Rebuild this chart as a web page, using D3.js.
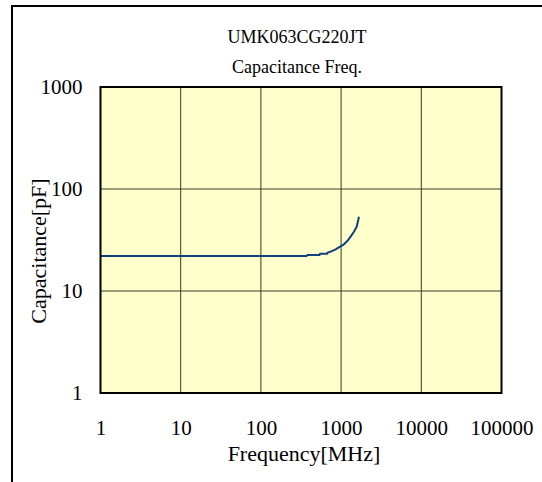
<!DOCTYPE html>
<html>
<head>
<meta charset="utf-8">
<script src="https://cdn.jsdelivr.net/npm/d3@7"></script>
<style>
  html, body { margin: 0; padding: 0; background: #fff; }
  svg { display: block; }
  text { font-family: "Liberation Serif", "Times New Roman", serif; fill: #000; }
</style>
</head>
<body>
<svg id="chart" width="542" height="482"></svg>
<script>
const titleLines = ["UMK063CG220JT", "Capacitance Freq."];
const xLabel = "Frequency[MHz]";
const yLabel = "Capacitance[pF]";
const xTicks = [1, 10, 100, 1000, 10000, 100000];
const yTicks = [1, 10, 100, 1000];
const freqMHz = [1, 10, 100, 370, 378, 540, 545, 670, 675, 740, 855, 985, 1085, 1195, 1315, 1445, 1565, 1670];
const capPF   = [22.0, 22.0, 22.0, 22.0, 22.5, 22.5, 23.2, 23.2, 23.7, 24.3, 25.6, 27.4, 28.7, 30.9, 34.1, 38.1, 42.7, 53.5];

const svg = d3.select("#chart");
const plot = { left: 100.5, right: 501.5, top: 87, bottom: 393 };

// outer frame (cut off at right and bottom)
svg.append("rect")
  .attr("x", 12).attr("y", 6).attr("width", 600).attr("height", 600)
  .attr("fill", "none").attr("stroke", "#000").attr("stroke-width", 2);

const x = d3.scaleLog().domain([1, 100000]).range([plot.left, plot.right]);
const y = d3.scaleLog().domain([1, 1000]).range([plot.bottom, plot.top]);

// plot background
svg.append("rect")
  .attr("x", plot.left).attr("y", plot.top)
  .attr("width", plot.right - plot.left).attr("height", plot.bottom - plot.top)
  .attr("fill", "#FFFFCC");

// gridlines
const grid = svg.append("g").attr("stroke", "#3a3a2a").attr("stroke-width", 1);
grid.selectAll("line.v").data(xTicks.slice(1, -1)).join("line")
  .attr("x1", d => x(d)).attr("x2", d => x(d))
  .attr("y1", plot.top).attr("y2", plot.bottom);
grid.selectAll("line.h").data(yTicks.slice(1, -1)).join("line")
  .attr("x1", plot.left).attr("x2", plot.right)
  .attr("y1", d => y(d)).attr("y2", d => y(d));

// curve
const line = d3.line().x((d, i) => x(freqMHz[i])).y((d, i) => y(capPF[i]));
svg.append("path")
  .datum(capPF)
  .attr("d", line)
  .attr("fill", "none")
  .attr("stroke", "#11407A")
  .attr("stroke-width", 2)
  .attr("stroke-linejoin", "round");

// plot border
svg.append("rect")
  .attr("x", plot.left).attr("y", plot.top)
  .attr("width", plot.right - plot.left).attr("height", plot.bottom - plot.top)
  .attr("fill", "none").attr("stroke", "#000").attr("stroke-width", 2);

// axes
const xAxis = d3.axisBottom(x).tickValues(xTicks).tickFormat(d3.format("d")).tickSize(0).tickPadding(27);
const gx = svg.append("g").attr("transform", `translate(0,${plot.bottom})`).call(xAxis);
gx.select(".domain").remove();
gx.selectAll("text").style("font-family", '"Liberation Serif", serif').style("font-size", "21px").attr("fill", "#000");

const yAxis = d3.axisLeft(y).tickValues(yTicks).tickFormat(d3.format("d")).tickSize(0).tickPadding(18);
const gy = svg.append("g").attr("transform", `translate(${plot.left},0)`).call(yAxis);
gy.select(".domain").remove();
gy.selectAll("text").style("font-family", '"Liberation Serif", serif').style("font-size", "21px").attr("fill", "#000");

// titles
svg.selectAll("text.title").data(titleLines).join("text")
  .attr("class", "title")
  .attr("x", 297).attr("y", (d, i) => 43 + i * 30)
  .attr("text-anchor", "middle")
  .style("font-size", "18px")
  .text(d => d);

svg.append("text")
  .attr("x", 304).attr("y", 461)
  .attr("text-anchor", "middle")
  .style("font-size", "22px")
  .text(xLabel);

svg.append("text")
  .attr("transform", "translate(46,251) rotate(-90)")
  .attr("text-anchor", "middle")
  .style("font-size", "22px")
  .text(yLabel);
</script>
</body>
</html>
